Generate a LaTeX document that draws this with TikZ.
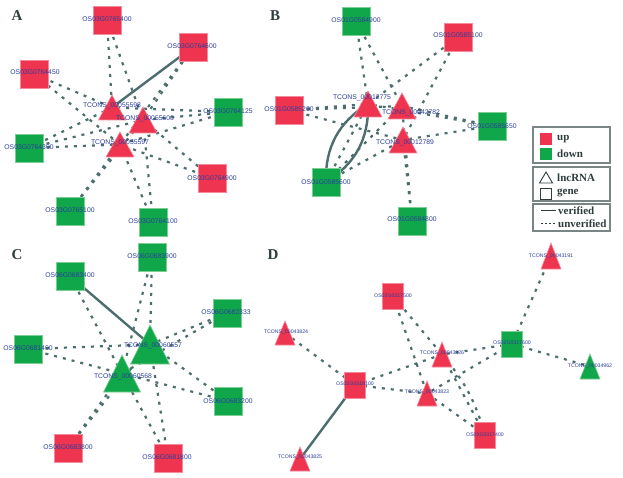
\documentclass[tikz,border=0pt]{standalone}
\usepackage{fontspec}
\newfontfamily\labfont{Liberation Sans}
\newfontfamily\serfont{Liberation Serif}
\usetikzlibrary{backgrounds}
\definecolor{upc}{HTML}{EE344E}
\definecolor{upb}{HTML}{F48A9C}
\definecolor{dnc}{HTML}{10A64A}
\definecolor{dnb}{HTML}{7CCF92}
\definecolor{edgec}{HTML}{4D6E6E}
\definecolor{labc}{HTML}{2C3E9E}
\definecolor{darkc}{HTML}{2F3D3D}
\definecolor{legb}{HTML}{7A8686}
\tikzset{
  sqbase/.style={rectangle, minimum width=28pt, minimum height=28pt, inner sep=0pt, line width=0.8pt},
  upsq/.style={sqbase, fill=upc, draw=upb},
  dnsq/.style={sqbase, fill=dnc, draw=dnb},
  smallsq/.style={minimum width=21pt, minimum height=26pt},
  uptri/.style={fill=upc, draw=upb, line width=0.6pt},
  dntri/.style={fill=dnc, draw=dnb, line width=0.6pt},
  lab/.style={font=\labfont\fontsize{6.8}{7}\selectfont, text=labc, inner sep=0pt},
  slab/.style={font=\labfont\fontsize{5.2}{6}\selectfont, text=labc, inner sep=0pt},
  unv/.style={draw=edgec, line width=2.2pt, dash pattern=on 3pt off 6pt},
  ver/.style={draw=edgec, line width=2.4pt},
  letter/.style={font=\serfont\bfseries\fontsize{15}{15}\selectfont, text=darkc, inner sep=0pt},
  legtext/.style={font=\serfont\bfseries\fontsize{11}{12}\selectfont, text=darkc, anchor=west, inner sep=0pt},
  legbox/.style={draw=legb, line width=1.2pt},
}
% name, x, y (centre), width, height, style
\newcommand\ltri[6]{%
  \coordinate (#1) at (#2,#3);
  \filldraw[#6] (#1) ++(0,{-(#5)/2}) -- ++({(#4)/2},#5) -- ++({-(#4)},0) -- cycle;}
\begin{document}
\begin{tikzpicture}[x=1pt,y=-1pt]
\useasboundingbox (0,0) rectangle (623,478);
\begin{scope}[on background layer]
\fill[white] (0,0) rectangle (623,478);
\end{scope}

% ---------------- Panel A ----------------
\node[letter] (LA) at (17,16) {A};
\node[upsq] (a1) at (107,20) {};
\node[upsq] (a2) at (193,47) {};
\node[upsq] (a3) at (34,74) {};
\node[dnsq] (a4) at (228,112) {};
\node[dnsq] (a5) at (29,148) {};
\node[upsq] (a6) at (212,178) {};
\node[dnsq] (a7) at (70,211) {};
\node[dnsq] (a8) at (153,222) {};
\ltri{t2}{143}{120}{28}{26}{uptri}
\ltri{t1}{112}{107.5}{27}{25}{uptri}
\ltri{t3}{120}{144.5}{28}{25}{uptri}
\begin{scope}[on background layer]
  \draw[ver] (t1) -- (a2.center);
  \draw[unv] (a1.center) -- (t1);
  \draw[unv] (a1.center) -- (t2);
  \draw[unv] (a2.center) -- (t2);
  \draw[unv] (a2.center) -- (t3);
  \draw[unv] (a3.center) -- (t1);
  \draw[unv] (a3.center) -- (t3);
  \draw[unv] (a4.center) -- (t1);
  \draw[unv] (a4.center) -- (t2);
  \draw[unv] (a4.center) -- (t3);
  \draw[unv] (a5.center) -- (t1);
  \draw[unv] (a5.center) -- (t2);
  \draw[unv] (a5.center) -- (t3);
  \draw[unv] (a6.center) -- (t2);
  \draw[unv] (a6.center) -- (t3);
  \draw[unv] (a7.center) -- (t2);
  \draw[unv] (a7.center) -- (t3);
  \draw[unv] (a8.center) -- (t2);
  \draw[unv] (a8.center) -- (t3);
\end{scope}
\node[lab] (a1l) at (107,19) {OS03G0765400};
\node[lab] (a2l) at (192,46) {OS03G0764600};
\node[lab] (a3l) at (35,72) {OS03G0764450};
\node[lab] (a4l) at (228,111) {OS03G0764125};
\node[lab] (a5l) at (29,147) {OS03G0764300};
\node[lab] (a6l) at (212,178) {OS03G0764900};
\node[lab] (a7l) at (70,210) {OS03G0765100};
\node[lab] (a8l) at (153,221) {OS03G0764100};
\node[lab] (t2l) at (145,119) {TCONS\_00055600};
\node[lab] (t1l) at (112,106) {TCONS\_00055598};
\node[lab] (t3l) at (120,143) {TCONS\_00055597};

% ---------------- Panel B ----------------
\node[letter] (LB) at (275,16) {B};
\node[dnsq] (b1) at (356,21) {};
\node[upsq] (b2) at (458,37) {};
\node[upsq] (b3) at (289,110) {};
\node[dnsq] (b4) at (492,126) {};
\node[dnsq] (b5) at (326,182) {};
\node[dnsq] (b6) at (412,221) {};
\ltri{s1}{368}{104}{28}{26}{uptri}
\ltri{s2}{402}{106}{28}{26}{uptri}
\ltri{s3}{403}{140}{28}{26}{uptri}
\begin{scope}[on background layer]
  \draw[ver] (b5.center) to[bend left=30] (s1);
  \draw[ver] (b5.center) to[bend right=30] (s1);
  \draw[unv] (b5.center) -- (s1);
  \draw[unv] (b1.center) -- (s1);
  \draw[unv] (b1.center) -- (s2);
  \draw[unv] (b2.center) -- (s1);
  \draw[unv] (b2.center) -- (s3);
  \draw[unv] (b3.center) -- (s1);
  \draw[unv] (b3.center) -- (s2);
  \draw[unv] (b3.center) -- (s3);
  \draw[unv] (b4.center) -- (s1);
  \draw[unv] (b4.center) -- (s2);
  \draw[unv] (b4.center) -- (s3);
  \draw[unv] (b5.center) -- (s2);
  \draw[unv] (b5.center) -- (s3);
  \draw[unv] (b6.center) -- (s2);
  \draw[unv] (b6.center) -- (s3);
\end{scope}
\node[lab] (b1l) at (356,20) {OS01G0584900};
\node[lab] (b2l) at (458,35) {OS01G0585100};
\node[lab] (b3l) at (289,109) {OS01G0585200};
\node[lab] (b4l) at (492,126) {OS01G0585650};
\node[lab] (b5l) at (326,182) {OS01G0585600};
\node[lab] (b6l) at (412,219) {OS01G0584800};
\node[lab] (s1l) at (362,98) {TCONS\_00012775};
\node[lab] (s2l) at (411,113) {TCONS\_00042782};
\node[lab] (s3l) at (405,143) {TCONS\_00012789};

% ---------------- Legend ----------------
\draw[legbox] (533,127) rectangle (610,163);
\draw[legbox] (533,167) rectangle (610,201);
\draw[legbox] (533,204) rectangle (610,231);
\node[fill=upc, minimum size=12pt, inner sep=0pt] (lgup) at (546,139) {};
\node[legtext] (lgupt) at (557,139.5) {up};
\node[fill=dnc, minimum size=12pt, inner sep=0pt] (lgdn) at (546,154) {};
\node[legtext] (lgdnt) at (557,154) {down};
\draw[darkc, line width=0.9pt] (546,172) -- (552.5,183) -- (539.5,183) -- cycle;
\node[legtext] (lglnc) at (557,177.5) {lncRNA};
\node[draw=darkc, line width=0.9pt, minimum size=11pt, inner sep=0pt] (lggene) at (546,193.5) {};
\node[legtext] (lggenet) at (557,193) {gene};
\coordinate (lgv1) at (541,211); \coordinate (lgv2) at (556,211);
\draw[darkc, line width=1pt] (lgv1) -- (lgv2);
\node[legtext] (lgvt) at (558,211) {verified};
\coordinate (lgu1) at (541,224); \coordinate (lgu2) at (556,224);
\draw[darkc, line width=1pt, dash pattern=on 2pt off 2pt] (lgu1) -- (lgu2);
\node[legtext] (lgut) at (558,224) {unverified};

% ---------------- Panel C ----------------
\node[letter] (LC) at (17,255) {C};
\node[dnsq] (c1) at (152,257) {};
\node[dnsq] (c2) at (70,276) {};
\node[dnsq] (c3) at (227,313) {};
\node[dnsq] (c4) at (28,349) {};
\node[dnsq] (c5) at (228,401) {};
\node[upsq] (c6) at (68,448) {};
\node[upsq] (c7) at (168,458) {};
\ltri{u1}{150}{344.5}{39}{39}{dntri}
\ltri{u2}{122}{373.5}{37}{37}{dntri}
\begin{scope}[on background layer]
  \draw[ver] (c2.center) -- (u1);
  \draw[unv] (c2.center) -- (u2);
  \draw[unv] (c1.center) -- (u1);
  \draw[unv] (c1.center) -- (u2);
  \draw[unv] (c3.center) -- (u1);
  \draw[unv] (c3.center) -- (u2);
  \draw[unv] (c4.center) -- (u1);
  \draw[unv] (c4.center) -- (u2);
  \draw[unv] (c5.center) -- (u1);
  \draw[unv] (c5.center) -- (u2);
  \draw[unv] (c6.center) -- (u1);
  \draw[unv] (c6.center) -- (u2);
  \draw[unv] (c7.center) -- (u1);
  \draw[unv] (c7.center) -- (u2);
\end{scope}
\node[lab] (c1l) at (152,256) {OS06G0683900};
\node[lab] (c2l) at (70,275) {OS06G0683400};
\node[lab] (c3l) at (226,312) {OS06G0682333};
\node[lab] (c4l) at (28,348) {OS06G0681400};
\node[lab] (c5l) at (228,401) {OS06G0683200};
\node[lab] (c6l) at (68,447) {OS06G0683800};
\node[lab] (c7l) at (167,457) {OS06G0681800};
\node[lab] (u1l) at (153,346) {TCONS\_00060557};
\node[lab] (u2l) at (123,377) {TCONS\_00060568};

% ---------------- Panel D ----------------
\node[letter] (LD) at (273,255) {D};
\node[upsq, smallsq] (d1) at (393,296) {};
\node[dnsq, smallsq] (d2) at (512,344) {};
\node[upsq, smallsq] (d3) at (355,385) {};
\node[upsq, smallsq] (d4) at (485,435) {};
\ltri{v1}{551}{256}{20}{26}{uptri}
\ltri{v2}{285}{333}{20}{24}{uptri}
\ltri{v3}{442}{354.5}{20}{25}{uptri}
\ltri{v4}{427}{393.5}{20}{25}{uptri}
\ltri{v5}{590}{366.5}{20}{25}{dntri}
\ltri{v6}{300}{459}{20}{24}{uptri}
\begin{scope}[on background layer]
  \draw[ver] (d3.center) -- (v6);
  \draw[unv] (v1) -- (d2.center);
  \draw[unv] (v2) -- (d3.center);
  \draw[unv] (d3.center) -- (v3);
  \draw[unv] (d3.center) -- (v4);
  \draw[unv] (d1.center) -- (v3);
  \draw[unv] (d1.center) -- (v4);
  \draw[unv] (d2.center) -- (v3);
  \draw[unv] (d2.center) -- (v4);
  \draw[unv] (d2.center) -- (v5);
  \draw[unv] (v3) -- (d4.center);
  \draw[unv] (v3) to[bend left=12] (d4.center);
  \draw[unv] (v4) -- (d4.center);
\end{scope}
\node[slab] (d1l) at (393,296) {OS02G0317500};
\node[slab] (d2l) at (512,343) {OS02G0317600};
\node[slab] (d3l) at (355,384) {OS02G0318100};
\node[slab] (d4l) at (485,435) {OS02G0317400};
\node[slab] (v1l) at (551,256) {TCONS\_00043191};
\node[slab] (v2l) at (286,332) {TCONS\_00043824};
\node[slab] (v3l) at (442,353) {TCONS\_00043826};
\node[slab] (v4l) at (427,392) {TCONS\_00043823};
\node[slab] (v5l) at (590,366) {TCONS\_00034962};
\node[slab] (v6l) at (300,457) {TCONS\_00043825};
\end{tikzpicture}
\end{document}
